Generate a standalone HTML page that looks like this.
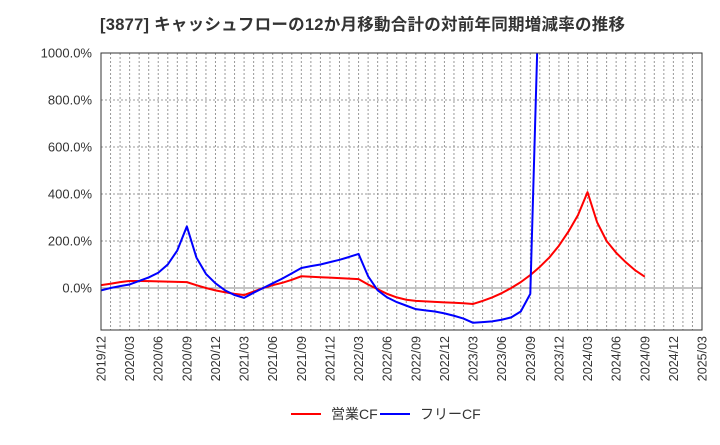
<!DOCTYPE html>
<html><head><meta charset="utf-8"><style>
body{margin:0;background:#fff;}
svg text{font-family:"Liberation Sans","Noto Sans CJK JP",sans-serif;}
</style></head><body>
<svg id="chart" width="720" height="440" xmlns="http://www.w3.org/2000/svg">
<text x="100" y="30" font-size="16.5" font-weight="bold" fill="#333" textLength="525" lengthAdjust="spacing">[3877]  キャッシュフローの12か月移動合計の対前年同期増減率の推移</text>
<g id="grid"></g>
<defs><clipPath id="clip"><rect x="101" y="53" width="601" height="277"/></clipPath></defs>
<g id="series" clip-path="url(#clip)"></g>
<rect x="101" y="53" width="601" height="277" fill="none" stroke="#333" stroke-width="1"/>
<g id="axes"></g>
<g>
<line x1="291" y1="414" x2="321" y2="414" stroke="#f00" stroke-width="2"/>
<text x="331" y="419" font-size="14" fill="#333">営業CF</text>
<line x1="380" y1="414" x2="410" y2="414" stroke="#00f" stroke-width="2"/>
<text x="420" y="419" font-size="14" fill="#333">フリーCF</text>
</g>
</svg>
<script>
const xTickLabels=["2019/12","2020/03","2020/06","2020/09","2020/12","2021/03","2021/06","2021/09","2021/12","2022/03","2022/06","2022/09","2022/12","2023/03","2023/06","2023/09","2023/12","2024/03","2024/06","2024/09","2024/12","2025/03"];
const yTicks=[0,200,400,600,800,1000];
const operatingCF=[12,18,25,30,30,29,28,27,26,25,12,0,-10,-18,-25,-30,-15,0,12,22,35,50,48,46,44,42,40,38,15,-5,-25,-40,-50,-55,-57,-59,-61,-63,-65,-68,-55,-40,-22,0,25,55,90,130,180,240,310,408,280,200,150,110,75,48];
const freeCF=[-10,0,8,15,30,45,65,100,160,262,130,60,20,-10,-30,-42,-20,0,20,40,62,85,93,100,110,120,132,145,50,-10,-40,-60,-75,-90,-95,-100,-108,-118,-130,-148,-145,-142,-135,-125,-100,-25,1400];
const NS='http://www.w3.org/2000/svg';
const X0=101,X1=702,months=63;
const xs=i=>X0+i*(X1-X0)/months;
const ys=v=>288-v*0.235;
const grid=document.getElementById('grid'),axes=document.getElementById('axes'),ser=document.getElementById('series');
function mk(tag,attrs,parent){const e=document.createElementNS(NS,tag);for(const k in attrs)e.setAttribute(k,attrs[k]);parent.appendChild(e);return e;}
for(let m=1;m<months;m++){
const l=mk('line',{x1:xs(m),x2:xs(m),y1:53,y2:330,stroke:'#999','stroke-dasharray':'2,2','stroke-width':1},grid);


}
yTicks.forEach(v=>{
const l=mk('line',{x1:X0,x2:X1,y1:ys(v),y2:ys(v),stroke:v===0?'#888':'#999','stroke-dasharray':v===0?'none':'2,2','stroke-width':1},grid);


const t=mk('text',{x:92,y:ys(v)+4.5,'text-anchor':'end','font-size':13,fill:'#333'},axes);
t.textContent=v.toFixed(1)+'%';


});
xTickLabels.forEach((s,i)=>{
const x=xs(i*3);
const t=mk('text',{x:0,y:0,transform:`translate(${x+4.5},336) rotate(-90)`,'text-anchor':'end','font-size':12.5,fill:'#333'},axes);
t.textContent=s;


});
function line(data,color,name){
const p=mk('polyline',{points:data.map((v,i)=>xs(i)+','+ys(v)).join(' '),fill:'none',stroke:color,'stroke-width':2,'stroke-linejoin':'round'},ser);


}
line(operatingCF,'#f00','operating-cf-line');
line(freeCF,'#00f','free-cf-line');
</script>
</body></html>
